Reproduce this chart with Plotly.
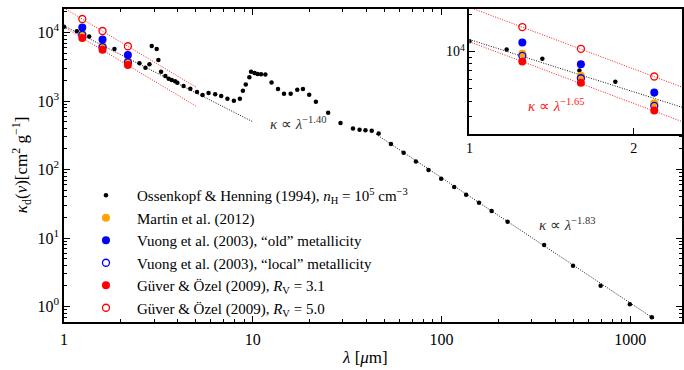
import numpy as np
import plotly.graph_objects as go

# Ossenkopf & Henning (1994) opacities, n_H = 1e5 cm^-3
lam_oh = [1.0, 1.17, 1.36, 1.59, 1.85, 2.18, 2.51, 2.70, 2.835, 2.915, 3.097, 3.162,
          3.268, 3.443, 3.584, 3.718, 3.875, 3.984, 4.30, 4.667, 5.063, 5.42, 5.83,
          6.32, 6.80, 7.34, 7.94, 8.54, 8.86, 9.18, 9.59, 9.79, 10.22, 10.60, 11.06,
          11.66, 12.57, 13.60, 14.63, 15.87, 17.20, 18.44, 19.90, 21.59, 25.07, 29.15,
          33.94, 36.77, 39.52, 42.66, 46.44, 53.93, 62.93, 73.09, 85.29, 99.5, 116.6,
          134.9, 157.9, 184.1, 223.7, 349.4, 497.0, 696.0, 994.0, 1299.0]
kap_oh = [12100, 10390, 8740, 7030, 5720, 4540, 3551, 3063, 3434, 6353, 5742, 3967,
          2677, 2317, 2116, 2026, 1940, 1850, 1656, 1512, 1353, 1224, 1309,
          1253, 1183, 1080, 1010, 1080, 1414, 1741, 2218, 2677, 2563, 2479, 2454,
          2437, 1863, 1497, 1278, 1278, 1462, 1497, 1236, 977, 672, 477,
          397, 380, 375, 367, 335, 236, 176, 131, 98.3, 73.1, 55.5,
          42.9, 32.8, 24.8, 17.3, 7.90, 3.94, 2.01, 1.077, 0.695]

# near-infrared bands J, H, K
lam_nir = [1.25, 1.6, 2.18]
kap_martin = [9590, 6400, 3840]
kap_vuong_old = [11830, 7910, 4680]
kap_vuong_local = [9230, 6100, 3660]
kap_guver_31 = [8300, 5620, 3350]
kap_guver_50 = [15740, 10520, 6300]

# power-law fits: (normalisation at 1 um, index, main-panel span)
fit_oh_nir = (12500, -1.40, [1.0, 10.0])
fit_oh_fir = (3.47e5, -1.83, [45.0, 1340.0])
fit_g50 = (22700, -1.65, [1.0, 5.0])
fit_g31 = (12000, -1.65, [1.0, 5.0])

W, H = 684, 370
ML, MR, MT, MB = 64, 0, 9, 48
SERIF = "Liberation Serif, 'Times New Roman', Times, serif"

# inset placement in paper coordinates
pw, ph = W - ML - MR, H - MT - MB
ins_x0 = (470.7 - ML) / pw
ins_y0 = (H - MB - 134) / ph


def px_to_paper(x, y):
    return (x - ML) / pw, (H - MB - y) / ph


fig = go.Figure()

DOT = "1px,1.5px"


def power_law(fit, span):
    a, p, _ = fit
    lam = np.array(span, dtype=float)
    return lam, a * lam ** p


def add_lines(xa, ya, span_nir, span_red):
    lam, k = power_law(fit_oh_nir, span_nir)
    fig.add_trace(go.Scatter(x=lam, y=k, mode="lines", xaxis=xa, yaxis=ya, showlegend=False,
                             line=dict(color="#111111", width=1, dash=DOT), hoverinfo="skip"))
    for fit in (fit_g50, fit_g31):
        lam, k = power_law(fit, span_red)
        fig.add_trace(go.Scatter(x=lam, y=k, mode="lines", xaxis=xa, yaxis=ya, showlegend=False,
                                 line=dict(color="#ff1a1a", width=1, dash=DOT), hoverinfo="skip"))


add_lines("x", "y", fit_oh_nir[2], fit_g50[2])
lam, k = power_law(fit_oh_fir, fit_oh_fir[2])
fig.add_trace(go.Scatter(x=lam, y=k, mode="lines", showlegend=False,
                         line=dict(color="#111111", width=1, dash=DOT), hoverinfo="skip"))
add_lines("x2", "y2", [1.0, 2.6], [1.0, 2.6])

series = [
    ("Martin et al. (2012)", kap_martin, dict(color="#ffa500", size=8)),
    ("Vuong et al. (2003), “old” metallicity", kap_vuong_old, dict(color="#0000ff", size=8)),
    ("Vuong et al. (2003), “local” metallicity", kap_vuong_local,
     dict(color="rgba(0,0,0,0)", size=7, line=dict(color="#0000ff", width=1.3))),
    ("Güver &amp; Özel (2009), <i>R</i><sub>V</sub> = 3.1", kap_guver_31, dict(color="#ff0000", size=8)),
    ("Güver &amp; Özel (2009), <i>R</i><sub>V</sub> = 5.0", kap_guver_50,
     dict(color="rgba(0,0,0,0)", size=7, line=dict(color="#ff0000", width=1.3))),
]

oh_name = "Ossenkopf &amp; Henning (1994), <i>n</i><sub>H</sub> = 10<sup>5</sup> cm<sup>−3</sup>"
for xa, ya, show in (("x", "y", True), ("x2", "y2", False)):
    fig.add_trace(go.Scatter(x=lam_oh, y=kap_oh, mode="markers", xaxis=xa, yaxis=ya,
                             name=oh_name, showlegend=show, legendrank=1,
                             marker=dict(color="black", size=4.5)))
    for i, (name, kap, mk) in enumerate(series):
        fig.add_trace(go.Scatter(x=lam_nir, y=kap, mode="markers", xaxis=xa, yaxis=ya,
                                 name=name, showlegend=show, legendrank=2 + i, marker=mk))

tickfont = dict(family=SERIF, size=16, color="black")


def minor_vals(d0, d1, digits=range(2, 10)):
    return [m * 10 ** d for d in range(d0, d1) for m in digits]


axis_common = dict(type="log", showgrid=False, zeroline=False, showline=True,
                   linecolor="black", linewidth=1.5, ticks="inside", tickcolor="black",
                   tickwidth=1, ticklen=6, mirror="ticks", tickfont=tickfont)

lx, ly = px_to_paper(75, 179)
fig.update_layout(
    width=W, height=H,
    margin=dict(l=ML, r=MR, t=MT, b=MB),
    paper_bgcolor="white", plot_bgcolor="white",
    font=dict(family=SERIF, color="black"),
    xaxis=dict(**axis_common, range=[0, 3.2735], domain=[0, 1],
               tickvals=[1, 10, 100, 1000], ticktext=["1", "10", "100", "1000"],
               ticklabelstandoff=2,
               minor=dict(ticks="inside", ticklen=3, tickwidth=1, tickcolor="black",
                          tickvals=minor_vals(0, 4), showgrid=False)),
    yaxis=dict(**axis_common, range=[-0.226, 4.343], domain=[0, 1],
               tickvals=[1, 10, 100, 1000, 10000],
               ticktext=["10<sup>0</sup>", "10<sup>1</sup>", "10<sup>2</sup>", "10<sup>3</sup>", "10<sup>4</sup>"],
               minor=dict(ticks="inside", ticklen=3, tickwidth=1, tickcolor="black",
                          tickvals=minor_vals(-1, 5), showgrid=False)),
    xaxis2=dict(**{**axis_common, "tickfont": dict(family=SERIF, size=14, color="black"), "mirror": True},
                range=[0, 0.3892], domain=[ins_x0, 1], anchor="y2",
                tickvals=[1, 2], ticktext=["1", "2"]),
    yaxis2=dict(**{**axis_common, "tickfont": dict(family=SERIF, size=14, color="black"), "mirror": True},
                range=[3.337, 4.342], domain=[ins_y0, 1], anchor="x2",
                tickvals=[10000], ticktext=["10<sup>4</sup>"],
                minor=dict(ticks="inside", ticklen=3, tickwidth=1, tickcolor="black",
                           tickvals=minor_vals(3, 5), showgrid=False)),
    legend=dict(x=lx, y=ly, xanchor="left", yanchor="top",
                bgcolor="rgba(0,0,0,0)", font=dict(family=SERIF, size=15, color="black"),
                itemwidth=52, tracegroupgap=0),
    showlegend=True,
)

# axis titles
tx, ty = px_to_paper(366, 357)
fig.add_annotation(x=tx, y=ty, xref="paper", yref="paper", showarrow=False,
                   xanchor="center", yanchor="middle",
                   text="<i>λ</i> [<i>μ</i>m]", font=dict(family=SERIF, size=17))
tx, ty = px_to_paper(21, 165)
fig.add_annotation(x=tx, y=ty, xref="paper", yref="paper", showarrow=False, textangle=-90,
                   xanchor="center", yanchor="middle",
                   text="<i>κ</i><sub>d</sub>(<i>ν</i>)[cm<sup>2</sup> g<sup>−1</sup>]",
                   font=dict(family=SERIF, size=17))

ann_font = dict(family=SERIF, size=15, color="#333333")
fig.add_annotation(x=np.log10(17.5), y=np.log10(477), xref="x", yref="y", showarrow=False,
                   text="<i>κ</i> ∝ <i>λ</i><sup>−1.40</sup>", font=ann_font)
fig.add_annotation(x=np.log10(462), y=np.log10(16), xref="x", yref="y", showarrow=False,
                   text="<i>κ</i> ∝ <i>λ</i><sup>−1.83</sup>", font=ann_font)
fig.add_annotation(x=np.log10(1.443), y=np.log10(3720), xref="x2", yref="y2", showarrow=False,
                   text="<i>κ</i> ∝ <i>λ</i><sup>−1.65</sup>",
                   font=dict(family=SERIF, size=15, color="#ff2020"))

fig.write_html("out.html")
